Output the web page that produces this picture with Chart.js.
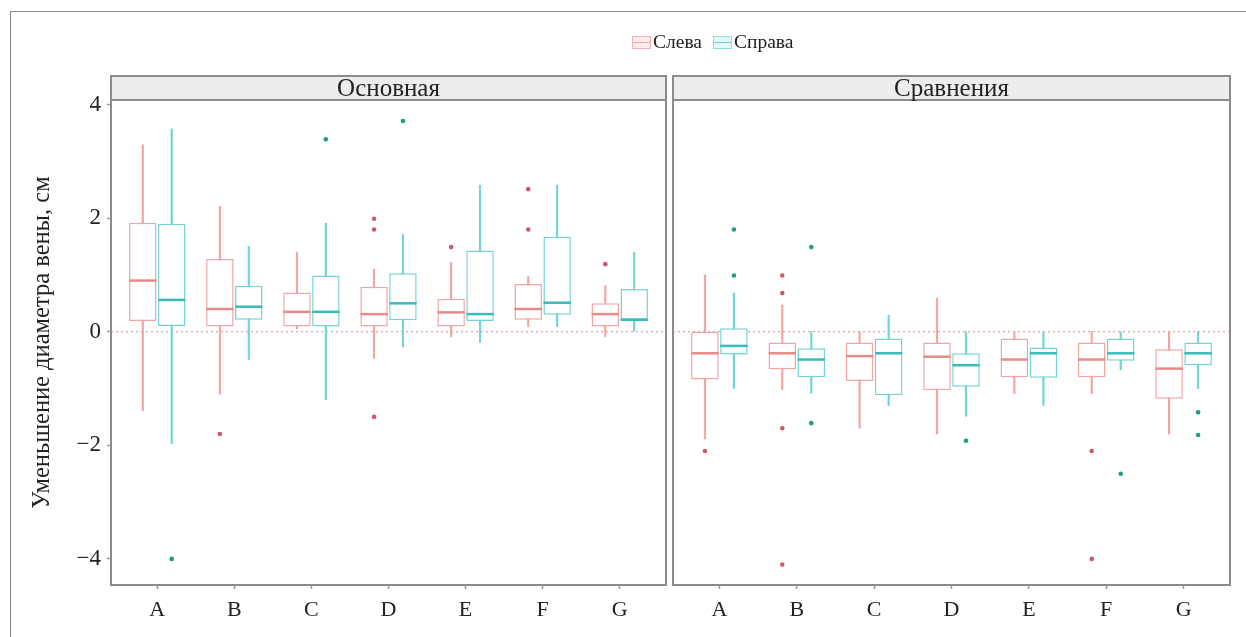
<!DOCTYPE html>
<html>
<head>
<meta charset="utf-8">
<script src="https://cdn.jsdelivr.net/npm/chart.js@4.4.0/dist/chart.umd.min.js"></script>
<style>
  body { margin: 0; background: #fff; width: 1246px; height: 637px; overflow: hidden; position: relative; font-family: 'Liberation Serif', serif; }
  #marcoext { position: absolute; left: 10px; top: 11px; width: 1250px; height: 640px; border-top: 1.5px solid #8a8a8a; border-left: 1.5px solid #8a8a8a; }
  #caja1 { position: absolute; left: 0; top: 0; width: 670px; height: 637px; }
  #caja2 { position: absolute; left: 668px; top: 0; width: 578px; height: 637px; }
  #leyenda { position: absolute; left: 632px; top: 31px; font-size: 19.5px; color: #222; white-space: nowrap; }
  #leyenda .ic { display: inline-block; position: relative; width: 17px; height: 11px; margin: 0 2px 0 0; vertical-align: -1px; }
  #leyenda .ic::after { content: ''; position: absolute; left: 0; right: 0; top: 4.5px; height: 1.5px; }
  #leyenda .rosa { border: 1.5px solid #f2b5b5; background: #fcecec; }
  #leyenda .rosa::after { background: #f0a5a5; }
  #leyenda .cian { border: 1.5px solid #8edede; background: #e3f7f7; margin-left: 11px; }
  #leyenda .cian::after { background: #6fd0d0; }
</style>
</head>
<body>
<div id="marcoext"></div>
<div id="caja1"><canvas id="grafica1"></canvas></div>
<div id="caja2"><canvas id="grafica2"></canvas></div>
<div id="leyenda"><span class="ic rosa"></span>Слева<span class="ic cian"></span>Справа</div>
<script>
var categorias = ['A', 'B', 'C', 'D', 'E', 'F', 'G'];
var ticksy = [-4, -2, 0, 2, 4];

// Основная, Слева
var osnlevmin = [-1.39, -1.10, 0.05, -0.47, -0.09, 0.09, -0.09];
var osnlevq1  = [0.19, 0.09, 0.09, 0.09, 0.09, 0.21, 0.09];
var osnlevmed = [0.90, 0.40, 0.35, 0.31, 0.34, 0.40, 0.31];
var osnlevq3  = [1.92, 1.28, 0.69, 0.79, 0.58, 0.84, 0.50];
var osnlevmax = [3.29, 2.21, 1.40, 1.10, 1.22, 0.97, 0.81];
var osnlevout = [['B', -1.8], ['D', 1.99], ['D', 1.8], ['D', -1.5], ['E', 1.49], ['F', 2.51], ['F', 1.8], ['G', 1.19]];

// Основная, Справа
var osnpramin = [-1.97, -0.49, -1.20, -0.27, -0.19, 0.09, 0.0];
var osnpraq1  = [0.10, 0.21, 0.09, 0.20, 0.19, 0.30, 0.21];
var osnpramed = [0.56, 0.44, 0.35, 0.50, 0.31, 0.51, 0.21];
var osnpraq3  = [1.90, 0.81, 0.99, 1.03, 1.43, 1.67, 0.75];
var osnpramax = [3.57, 1.50, 1.91, 1.71, 2.58, 2.58, 1.40];
var osnpraout = [['A', -4.0], ['C', 3.39], ['D', 3.71]];

// Сравнения, Слева
var srvlevmin = [-1.89, -1.02, -1.70, -1.80, -1.09, -1.09, -1.80];
var srvlevq1  = [-0.84, -0.66, -0.87, -1.03, -0.80, -0.80, -1.18];
var srvlevmed = [-0.38, -0.38, -0.43, -0.44, -0.49, -0.49, -0.65];
var srvlevq3  = [0.0, -0.19, -0.19, -0.19, -0.12, -0.19, -0.31];
var srvlevmax = [1.0, 0.47, 0.0, 0.59, 0.0, 0.0, 0.0];
var srvlevout = [['A', -2.1], ['B', 0.99], ['B', 0.68], ['B', -1.70], ['B', -4.1], ['F', -2.1], ['F', -4.0]];

// Сравнения, Справа
var srvpramin = [-1.0, -1.08, -1.30, -1.49, -1.30, -0.67, -1.0];
var srvpraq1  = [-0.40, -0.80, -1.12, -0.97, -0.81, -0.51, -0.59];
var srvpramed = [-0.25, -0.49, -0.38, -0.59, -0.38, -0.38, -0.38];
var srvpraq3  = [0.06, -0.29, -0.12, -0.38, -0.28, -0.12, -0.19];
var srvpramax = [0.68, 0.0, 0.29, 0.0, 0.0, 0.0, 0.0];
var srvpraout = [['A', 1.80], ['A', 0.99], ['B', 1.49], ['B', -1.61], ['D', -1.92], ['F', -2.5], ['G', -1.42], ['G', -1.82]];

var fuente = 'Liberation Serif';

//plugin que dibuja la linea punteada en 0, el marco del panel y la franja con el titulo
var marcopanel = {
  id: 'marcopanel',
  beforeDatasetsDraw: function(chart) {
    var a = chart.chartArea, ctx = chart.ctx;
    var y0 = chart.scales.y.getPixelForValue(0);
    ctx.save();
    ctx.setLineDash([2, 3]);
    ctx.strokeStyle = '#d2a9a9';
    ctx.lineWidth = 1.3;
    ctx.beginPath();
    ctx.moveTo(a.left, y0);
    ctx.lineTo(a.right, y0);
    ctx.stroke();
    ctx.restore();
  },
  afterDraw: function(chart, args, opts) {
    var a = chart.chartArea, ctx = chart.ctx;
    ctx.save();
    ctx.fillStyle = '#ededed';
    ctx.fillRect(a.left, a.top - 24, a.right - a.left, 24);
    ctx.strokeStyle = '#8c8c8c';
    ctx.lineWidth = 2;
    ctx.strokeRect(a.left, a.top - 24, a.right - a.left, 24);
    ctx.strokeRect(a.left, a.top, a.right - a.left, a.bottom - a.top);
    ctx.fillStyle = '#222';
    ctx.font = '25px "' + fuente + '"';
    ctx.textAlign = 'center';
    ctx.textBaseline = 'middle';
    ctx.fillText(opts.titulo, (a.left + a.right) / 2, a.top - 11);
    ctx.restore();
  }
};

//datasets de una serie: bigote, caja, mediana y puntos atipicos
function datasetsde(serie, desplaz, colorcaja, colormed, colorpunto) {
  var xs = categorias.map(function(c, i) { return i + 1 + desplaz; });
  return [
    {
      type: 'bar',
      data: xs.map(function(x, i) { return {x: x, y: [serie.min[i], serie.max[i]]}; }),
      backgroundColor: colorcaja,
      barThickness: 1.5,
      grouped: false,
      order: 4
    },
    {
      type: 'bar',
      data: xs.map(function(x, i) { return {x: x, y: [serie.q1[i], serie.q3[i]]}; }),
      backgroundColor: '#ffffff',
      borderColor: colorcaja,
      borderWidth: 1.5,
      borderSkipped: false,
      grouped: false,
      categoryPercentage: 1,
      barPercentage: 0.95,
      order: 3
    },
    {
      type: 'scatter',
      data: xs.map(function(x, i) { return {x: x, y: serie.med[i]}; }),
      pointStyle: 'line',
      pointRadius: 13.7,
      borderColor: colormed,
      borderWidth: 2.5,
      order: 2
    },
    {
      type: 'scatter',
      data: serie.out.map(function(p) { return {x: categorias.indexOf(p[0]) + 1 + desplaz, y: p[1]}; }),
      pointRadius: 2.3,
      backgroundColor: colorpunto,
      borderWidth: 0,
      order: 1
    }
  ];
}

function crearpanel(canvas, titulo, lev, prav, conejey, relleno) {
  var ds = datasetsde(lev, -0.1875, '#f2a5a5', '#e68a8a', '#cc5a6c')
    .concat(datasetsde(prav, 0.1875, '#74d3d3', '#3bbaba', '#1b9e84'));
  return new Chart(canvas, {
    type: 'bar',
    data: { datasets: ds },
    options: {
      responsive: true,
      maintainAspectRatio: false,
      animation: false,
      events: [],
      layout: { padding: relleno, autoPadding: false },
      plugins: {
        legend: { display: false },
        tooltip: { enabled: false },
        marcopanel: { titulo: titulo }
      },
      scales: {
        x: {
          type: 'linear',
          offset: false,
          min: 0.4,
          max: 7.6,
          afterBuildTicks: function(s) { s.ticks = categorias.map(function(c, i) { return {value: i + 1}; }); },
          afterFit: function(s) { s.height = 52; s.paddingLeft = 0; s.paddingRight = 0; },
          ticks: {
            font: { family: fuente, size: 22 },
            color: '#222',
            padding: 8,
            maxRotation: 0,
            autoSkip: false,
            callback: function(v) { return categorias[v - 1]; }
          },
          grid: { offset: false, drawOnChartArea: false, tickLength: 4, tickColor: '#9a9a9a', tickWidth: 1.5 },
          border: { display: false }
        },
        y: {
          display: conejey,
          min: -4.46,
          max: 4.08,
          afterBuildTicks: function(s) { s.ticks = ticksy.map(function(v) { return {value: v}; }); },
          afterFit: function(s) { if (conejey) s.width = 87; s.paddingTop = 0; s.paddingBottom = 0; },
          ticks: {
            font: { family: fuente, size: 23 },
            color: '#222',
            padding: 6,
            callback: function(v) { return String(v).replace('-', '\u2212'); }
          },
          grid: { drawOnChartArea: false, tickLength: 4, tickColor: '#9a9a9a', tickWidth: 1.5 },
          border: { display: false },
          title: {
            display: true,
            text: 'Уменьшение диаметра вены, см',
            font: { family: fuente, size: 24.5 },
            color: '#222'
          }
        }
      }
    },
    plugins: [marcopanel]
  });
}

var grafica1 = crearpanel(document.getElementById('grafica1'), 'Основная',
  { min: osnlevmin, q1: osnlevq1, med: osnlevmed, q3: osnlevq3, max: osnlevmax, out: osnlevout },
  { min: osnpramin, q1: osnpraq1, med: osnpramed, q3: osnpraq3, max: osnpramax, out: osnpraout },
  true, { top: 100, left: 24, right: 4, bottom: 0 });

var grafica2 = crearpanel(document.getElementById('grafica2'), 'Сравнения',
  { min: srvlevmin, q1: srvlevq1, med: srvlevmed, q3: srvlevq3, max: srvlevmax, out: srvlevout },
  { min: srvpramin, q1: srvpraq1, med: srvpramed, q3: srvpraq3, max: srvpramax, out: srvpraout },
  false, { top: 100, left: 5, right: 16, bottom: 0 });
</script>
</body>
</html>
